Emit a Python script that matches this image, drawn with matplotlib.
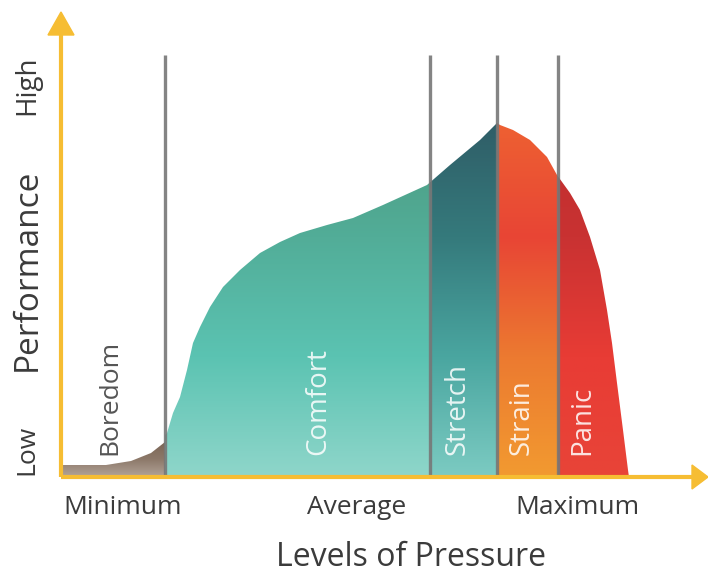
import numpy as np
import matplotlib.pyplot as plt
from matplotlib.colors import LinearSegmentedColormap
from matplotlib.patches import Polygon

plt.rcParams['font.family'] = ['Open Sans', 'DejaVu Sans']

# pressure (x) / performance (y)
boredom_x = [0, 2, 45, 70, 90, 104, 104]
boredom_y = [0, 12, 12, 16, 24, 35, 0]

curve_x = [104, 104, 106, 112, 119, 126, 132, 139, 149, 162, 179, 199, 219,
           239, 266, 292, 322, 366, 389, 419, 436, 439, 452, 469, 486, 496,
           509, 519, 529, 539, 546, 551, 556, 562, 567, 568]
curve_y = [0, 42, 44, 64, 80, 107, 134, 150, 170, 190, 207, 224, 235,
           244, 252, 259, 272, 292, 312, 337, 354, 352, 347, 337, 320, 302,
           284, 267, 240, 207, 167, 134, 94, 47, 7, 0]

zone_edges = [104, 369, 436, 497, 570]
zone_names = ["Comfort", "Stretch", "Strain", "Panic"]
zone_label_x = [257, 397, 461, 521]
boredom_label_x = 49

# gradient colours, bottom -> top
zone_colors = [
    ["#8fd6ca", "#5bc3b2", "#52ad98", "#4c9a7e"],
    ["#7ccbc2", "#4aa6a0", "#357a7c", "#2f5c66"],
    ["#f29a30", "#ec7a30", "#e84535", "#ee6232"],
    ["#e84438", "#e83c35", "#c93232", "#bf2e2e"],
]
boredom_colors = ["#b3a498", "#8c7869", "#7a6555"]

divider_x = [104, 369, 436, 497]
divider_top = 422

x_ticks = [62, 296, 516]
x_tick_labels = ["Minimum", "Average", "Maximum"]

xmax, ymax = 647, 465
axis_col = "#f6bd33"
text_col = "#3b3b3b"

fig = plt.figure(figsize=(7.08, 5.73), dpi=100)
ax = fig.add_axes([61/708, 96/573, 647/708, 465/573])
ax.set_xlim(0, xmax)
ax.set_ylim(0, ymax)
ax.axis('off')

grad = np.linspace(0, 1, 256).reshape(-1, 1)

main_poly = Polygon(np.column_stack([curve_x, curve_y]), closed=True,
                    facecolor='none', edgecolor='none')
ax.add_patch(main_poly)
for i in range(len(zone_names)):
    cmap = LinearSegmentedColormap.from_list("z%d" % i, zone_colors[i])
    im = ax.imshow(grad, cmap=cmap, origin='lower', aspect='auto',
                   extent=[zone_edges[i], zone_edges[i+1], 0, 360], zorder=1)
    im.set_clip_path(main_poly)

bor_poly = Polygon(np.column_stack([boredom_x, boredom_y]), closed=True,
                   facecolor='none', edgecolor='none')
ax.add_patch(bor_poly)
cmap = LinearSegmentedColormap.from_list("bor", boredom_colors)
im = ax.imshow(grad, cmap=cmap, origin='lower', aspect='auto',
               extent=[0, 104, 0, 36], zorder=1)
im.set_clip_path(bor_poly)
ax.set_xlim(0, xmax)
ax.set_ylim(0, ymax)

# divider lines
for xv in divider_x:
    ax.plot([xv, xv], [0, divider_top], color="#777777", lw=2.4, alpha=0.9,
            zorder=3, solid_capstyle='butt')

# axes with arrow heads
ax.plot([0, xmax - 14], [0, 0], color=axis_col, lw=3, zorder=4,
        clip_on=False, solid_capstyle='butt')
ax.plot([0, 0], [0, ymax - 20], color=axis_col, lw=3, zorder=4,
        clip_on=False, solid_capstyle='butt')
ax.add_patch(Polygon([[xmax - 16, 12], [xmax, 0], [xmax - 16, -12]],
                     closed=True, color=axis_col, zorder=4, clip_on=False))
ax.add_patch(Polygon([[-13, ymax - 23], [0, ymax], [13, ymax - 23]],
                     closed=True, color=axis_col, zorder=4, clip_on=False))

# zone labels
label_y = 22
ax.text(boredom_label_x, label_y, "Boredom", rotation=90, rotation_mode='anchor',
        ha='left', va='center', fontsize=19, color="#555555", zorder=5)
for name, lx in zip(zone_names, zone_label_x):
    ax.text(lx, label_y, name, rotation=90, rotation_mode='anchor',
            ha='left', va='center', fontsize=20, color="white", alpha=0.85,
            zorder=5)

# tick labels and axis titles
for tx, tl in zip(x_ticks, x_tick_labels):
    ax.text(tx, -31, tl, ha='center', va='center', fontsize=19,
            color=text_col, clip_on=False)
ax.text(350, -80, "Levels of Pressure", ha='center', va='center', fontsize=23,
        color=text_col, clip_on=False)
ax.text(-34, 207, "Performance", rotation=90, ha='center', va='center',
        fontsize=24, color=text_col, clip_on=False)
ax.text(-34, 392, "High", rotation=90, ha='center', va='center',
        fontsize=20, color=text_col, clip_on=False)
ax.text(-34, 27, "Low", rotation=90, ha='center', va='center',
        fontsize=19, color=text_col, clip_on=False)

plt.savefig("out.png", dpi=100)
